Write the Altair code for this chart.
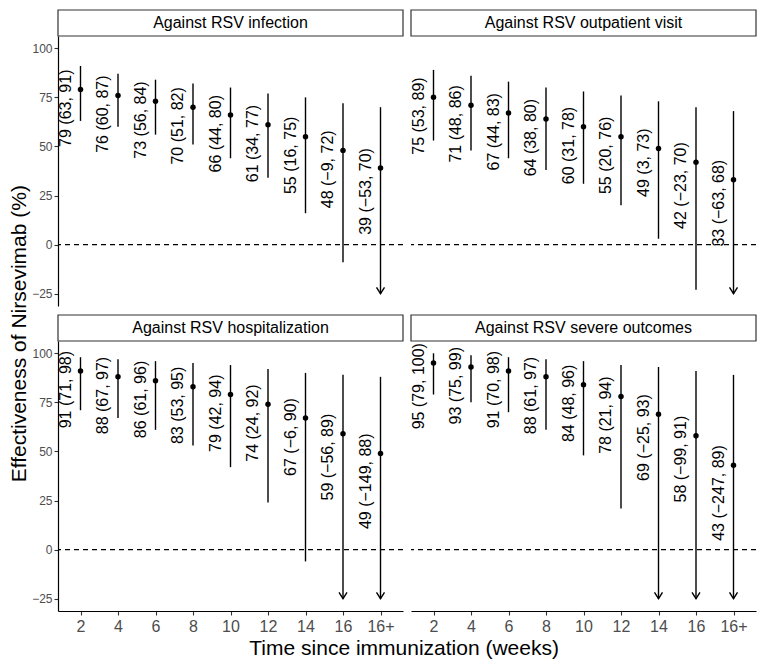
import altair as alt
import pandas as pd

panels = ["Against RSV infection", "Against RSV outpatient visit",
          "Against RSV hospitalization", "Against RSV severe outcomes"]
weeks = ["2", "4", "6", "8", "10", "12", "14", "16", "16+"]

infection_est = [79, 76, 73, 70, 66, 61, 55, 48, 39]
infection_lo = [63, 60, 56, 51, 44, 34, 16, -9, -53]
infection_hi = [91, 87, 84, 82, 80, 77, 75, 72, 70]

outpatient_est = [75, 71, 67, 64, 60, 55, 49, 42, 33]
outpatient_lo = [53, 48, 44, 38, 31, 20, 3, -23, -63]
outpatient_hi = [89, 86, 83, 80, 78, 76, 73, 70, 68]

hosp_est = [91, 88, 86, 83, 79, 74, 67, 59, 49]
hosp_lo = [71, 67, 61, 53, 42, 24, -6, -56, -149]
hosp_hi = [98, 97, 96, 95, 94, 92, 90, 89, 88]

severe_est = [95, 93, 91, 88, 84, 78, 69, 58, 43]
severe_lo = [79, 75, 70, 61, 48, 21, -25, -99, -247]
severe_hi = [100, 99, 98, 97, 96, 94, 93, 91, 89]

series = [
    (infection_est, infection_lo, infection_hi),
    (outpatient_est, outpatient_lo, outpatient_hi),
    (hosp_est, hosp_lo, hosp_hi),
    (severe_est, severe_lo, severe_hi),
]

def fmt(v):
    return str(v).replace("-", "\u2212")

rows = []
for p, (e, lo, hi) in zip(panels, series):
    for w, ev, lv, hv in zip(weeks, e, lo, hi):
        rows.append({"panel": p, "week": w, "est": ev, "lo": lv, "hi": hv,
                     "label": f"{fmt(ev)} ({fmt(lv)}, {fmt(hv)})"})
df = pd.DataFrame(rows)

W = 345
H = 270
FONT = "Liberation Sans"

x_enc = alt.X("week:N", sort=weeks, title=None,
              scale=alt.Scale(type="point", padding=0.6))
y_scale = alt.Scale(domain=[-31.25, 106.25], nice=False, zero=False)
y_axis = alt.Axis(values=[-25, 0, 25, 50, 75, 100], title=None)

base = alt.Chart().transform_calculate(
    lo_c="max(datum.lo, -25)"
)

zero_rule = alt.Chart().transform_filter("datum.week == '2'").mark_rule(
    strokeDash=[5, 4], color="black", strokeWidth=1.1
).encode(y=alt.datum(0, scale=y_scale, axis=y_axis, type="quantitative"))

bars = base.mark_rule(color="black", strokeWidth=1.4).encode(
    x=x_enc,
    y=alt.Y("lo_c:Q", scale=y_scale, axis=y_axis),
    y2="hi:Q",
)

arrows = base.transform_filter("datum.lo <= -25").mark_point(
    shape="M-1,-1.6L0,0L1,-1.6", filled=False, size=64,
    strokeWidth=1.4, color="black", opacity=1
).encode(x=x_enc, y=alt.Y("lo_c:Q", scale=y_scale, axis=y_axis))

points = base.mark_circle(size=30, color="black", opacity=1).encode(
    x=x_enc, y=alt.Y("est:Q", scale=y_scale, axis=y_axis)
)

labels = base.mark_text(
    angle=270, align="right", baseline="bottom", dx=20, dy=-7,
    fontSize=16, font=FONT, color="black"
).encode(x=x_enc, y=alt.Y("est:Q", scale=y_scale, axis=y_axis), text="label:N")

strip_box = alt.Chart().transform_filter("datum.week == '2'").mark_rect(
    fill="white", stroke="#333333", strokeWidth=1.2
).encode(x=alt.value(0), x2=alt.value(W), y=alt.value(-26), y2=alt.value(0))

strip_text = alt.Chart().transform_filter("datum.week == '2'").mark_text(
    fontSize=16, font=FONT, color="black", baseline="middle", align="center"
).encode(x=alt.value(W / 2), y=alt.value(-13), text="panel:N")

layered = alt.layer(
    zero_rule, bars, arrows, points, labels, strip_box, strip_text, data=df
).properties(width=W, height=H)

faceted = layered.facet(
    facet=alt.Facet("panel:N", sort=panels, title=None,
                    header=alt.Header(labels=False, labelExpr="''",
                                      labelPadding=0, labelFontSize=1)),
    columns=2,
    spacing={"row": 35, "column": 8},
    bounds="flush",
).properties(
    title=alt.TitleParams(
        "Time since immunization (weeks)", orient="bottom", anchor="middle",
        fontSize=21, font=FONT, fontWeight="normal", color="black", offset=4,
        dx=10
    )
)

chart = alt.vconcat(faceted).properties(
    padding={"left": 0, "top": 0, "right": 0, "bottom": 0},
    title=alt.TitleParams(
        "Effectiveness of Nirsevimab (%)", orient="left", anchor="middle",
        fontSize=21, font=FONT, fontWeight="normal", color="black", offset=2
    ),
).configure_view(stroke=None).configure_axis(
    grid=False, domainColor="black", domainWidth=1.2, tickColor="#333333",
    tickWidth=1.1, tickSize=4, labelColor="#4D4D4D", labelFont=FONT
).configure_axisX(labelFontSize=16, labelPadding=3, labelAngle=0).configure_axisY(
    labelFontSize=12, labelPadding=2
).configure_headerFacet(labels=False, labelPadding=0)

chart.save("out.html", embed_options={"renderer": "svg", "actions": False})
